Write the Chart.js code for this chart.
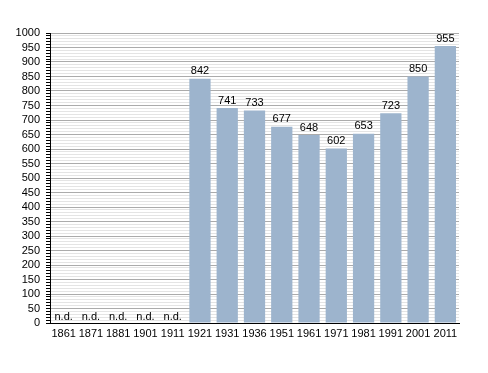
<!DOCTYPE html>
<html>
<head>
<meta charset="utf-8">
<script src="https://cdn.jsdelivr.net/npm/chart.js@4/dist/chart.umd.min.js"></script>
<style>
  html, body { margin: 0; padding: 0; background: #fff; }
  #wrap { width: 488px; height: 373px; }
</style>
</head>
<body>
<div id="wrap"><canvas id="popChart" width="488" height="373"></canvas></div>
<script>
// anni del censimento
const years = ['1861', '1871', '1881', '1901', '1911', '1921', '1931', '1936', '1951', '1961', '1971', '1981', '1991', '2001', '2011'];
// abitanti (null = dato non disponibile)
const residents = [null, null, null, null, null, 842, 741, 733, 677, 648, 602, 653, 723, 850, 955];
const noDataLabel = 'n.d.';
const yMin = 0;
const yMax = 1000;
const yMajorStep = 50;
const yMinorStep = 10;

// etichette sopra le barre
const barLabels = {
    id: 'barLabels',
    afterDatasetsDraw(chart) {
        const ctx = chart.ctx;
        const meta = chart.getDatasetMeta(0);
        const yScale = chart.scales.y;
        ctx.save();
        ctx.font = '11px "Liberation Sans", Arial, sans-serif';
        ctx.fillStyle = '#000';
        ctx.textAlign = 'center';
        ctx.textBaseline = 'bottom';
        meta.data.forEach(function (bar, i) {
            const v = residents[i];
            if (v === null) {
                ctx.fillText(noDataLabel, bar.x, yScale.getPixelForValue(0) - 1);
            } else {
                ctx.fillText(String(v), bar.x, bar.y - 2);
            }
        });
        ctx.restore();
    }
};

const ctx = document.getElementById('popChart').getContext('2d');
const popChart = new Chart(ctx, {
    type: 'bar',
    data: {
        labels: years,
        datasets: [{
            data: residents,
            backgroundColor: '#9db4cd',
            borderWidth: 0,
            categoryPercentage: 1,
            barPercentage: 0.78
        }]
    },
    options: {
        responsive: false,
        animation: false,
        layout: { padding: { left: 0, right: 29, top: 33, bottom: 0 } },
        plugins: {
            legend: { display: false },
            tooltip: { enabled: false }
        },
        scales: {
            x: {
                grid: { display: false, drawTicks: false },
                border: { color: '#000', width: 1 },
                ticks: {
                    color: '#000',
                    padding: 4,
                    maxRotation: 0,
                    autoSkip: false,
                    font: { family: '"Liberation Sans", Arial, sans-serif', size: 11 }
                },
                afterFit: function (scale) { scale.height = 50; }
            },
            y: {
                min: yMin,
                max: yMax,
                ticks: {
                    stepSize: yMinorStep,
                    autoSkip: false,
                    color: '#000',
                    padding: 6,
                    font: { family: '"Liberation Sans", Arial, sans-serif', size: 11 },
                    callback: function (value) {
                        return value % yMajorStep === 0 ? value : '';
                    }
                },
                grid: {
                    tickLength: 4,
                    color: function (c) {
                        return c.tick && c.tick.value % yMajorStep === 0 ? '#ababab' : '#e4e4e4';
                    },
                    tickColor: '#000'
                },
                border: { color: '#000', width: 1 },
                afterFit: function (scale) { scale.width = 50; }
            }
        }
    },
    plugins: [barLabels]
});
</script>
</body>
</html>
